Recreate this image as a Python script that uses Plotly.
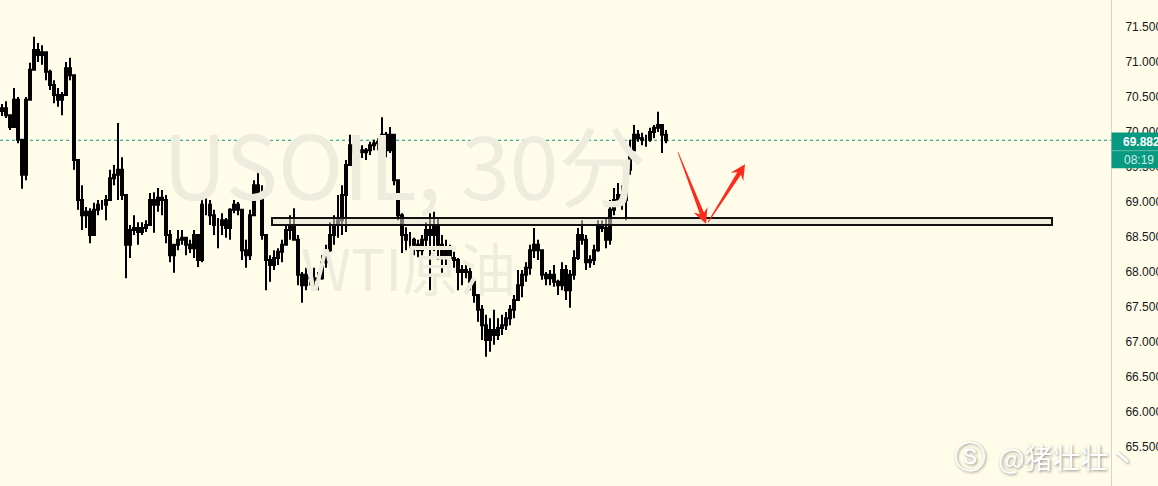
import plotly.graph_objects as go

# ---------------- data ----------------
high = [70.40, 70.44, 70.24, 70.63, 70.50, 69.74, 70.50, 70.99, 71.36, 71.27,
        71.24, 71.10, 70.89, 70.74, 70.63, 70.57, 71.00, 71.06, 70.81, 69.56,
        69.24, 68.93, 68.91, 68.99, 69.03, 69.03, 69.10, 69.46, 69.53, 70.13,
        69.64, 69.03, 68.67, 68.81, 68.71, 68.71, 68.74, 69.13, 69.14, 69.20,
        69.17, 69.10, 68.60, 68.31, 68.60, 68.60, 68.50, 68.46, 68.60, 68.46,
        69.03, 69.10, 69.03, 68.89, 68.77, 68.84, 68.77, 68.91, 69.03, 69.00,
        68.89, 68.46, 68.89, 69.31, 69.49, 69.24, 68.53, 68.24, 68.31, 68.34,
        68.46, 68.67, 68.81, 68.91, 68.53, 68.00, 68.06, 68.03, 68.06, 68.00,
        68.24, 68.39, 68.71, 68.81, 69.10, 69.24, 69.60, 69.96, 69.89, 69.81,
        69.81, 69.77, 69.86, 69.89, 69.91, 70.21, 70.00, 70.07, 69.89, 69.31,
        68.84, 68.64, 68.57, 68.49, 68.46, 68.53, 68.71, 68.84, 68.86, 68.77,
        68.53, 68.46, 68.39, 68.29, 68.20, 68.10, 68.10, 68.06, 67.89, 67.67,
        67.53, 67.39, 67.34, 67.46, 67.34, 67.39, 67.43, 67.53, 67.67, 68.03,
        68.03, 68.14, 68.39, 68.63, 68.46, 68.31, 68.00, 68.03, 68.10, 67.89,
        68.14, 68.10, 68.03, 68.31, 68.63, 68.74, 68.53, 68.24, 68.39, 68.74,
        68.74, 68.77, 69.03, 69.20, 69.27, 69.24, 69.53, 69.89, 70.10, 70.03,
        69.99, 69.96, 70.06, 70.10, 70.29, 70.10, 70.03]
low = [70.23, 70.20, 70.03, 70.06, 69.84, 69.19, 69.31, 70.46, 70.89, 71.00,
       70.96, 70.74, 70.60, 70.41, 70.36, 70.24, 70.53, 70.74, 69.46, 68.89,
       68.60, 68.63, 68.41, 68.53, 68.81, 68.89, 68.74, 69.03, 69.24, 69.03,
       69.03, 67.91, 68.20, 68.53, 68.39, 68.53, 68.57, 68.67, 68.56, 68.86,
       68.81, 68.41, 68.14, 67.99, 68.31, 68.39, 68.24, 68.27, 68.20, 68.07,
       68.14, 68.81, 68.67, 68.53, 68.34, 68.53, 68.49, 68.46, 68.84, 68.81,
       68.17, 68.06, 68.17, 68.81, 69.03, 68.46, 67.74, 67.86, 68.03, 68.10,
       68.14, 68.39, 68.46, 68.46, 67.81, 67.56, 67.74, 67.81, 67.74, 67.74,
       67.89, 68.06, 68.29, 68.39, 68.49, 68.53, 68.57, 69.57, 69.60, 69.60,
       69.63, 69.60, 69.67, 69.74, 69.74, 69.74, 69.64, 69.70, 69.24, 68.74,
       68.27, 68.31, 68.34, 68.24, 68.21, 68.24, 68.36, 67.74, 68.21, 68.17,
       67.99, 68.06, 68.10, 68.06, 67.74, 67.81, 67.91, 67.74, 67.56, 67.29,
       67.03, 66.79, 66.86, 66.96, 67.03, 67.10, 67.17, 67.24, 67.34, 67.60,
       67.64, 67.86, 67.96, 68.20, 68.17, 67.89, 67.81, 67.81, 67.79, 67.67,
       67.74, 67.60, 67.49, 67.89, 68.17, 68.39, 68.03, 68.06, 68.10, 68.29,
       68.57, 68.34, 68.39, 68.81, 68.96, 68.89, 68.74, 69.39, 69.74, 69.86,
       69.81, 69.79, 69.86, 69.91, 70.00, 69.70, 69.84]
close = [70.34, 70.24, 70.07, 70.46, 69.89, 69.39, 70.46, 70.89, 71.17, 71.10,
         71.14, 70.86, 70.67, 70.53, 70.46, 70.53, 70.91, 70.81, 69.60, 69.03,
         68.81, 68.86, 68.53, 68.89, 68.96, 68.96, 69.03, 69.34, 69.39, 69.46,
         69.10, 68.39, 68.60, 68.63, 68.57, 68.63, 68.67, 69.03, 68.96, 69.06,
         69.03, 68.53, 68.24, 68.39, 68.46, 68.49, 68.39, 68.34, 68.53, 68.17,
         68.96, 68.96, 68.81, 68.67, 68.67, 68.74, 68.63, 68.89, 68.96, 68.89,
         68.31, 68.24, 68.81, 69.24, 69.10, 68.53, 68.17, 68.10, 68.20, 68.29,
         68.39, 68.60, 68.67, 68.46, 67.96, 67.81, 67.96, 67.91, 67.89, 67.91,
         68.14, 68.31, 68.53, 68.67, 68.74, 69.10, 69.53, 69.81, 69.71, 69.74,
         69.71, 69.74, 69.81, 69.84, 69.86, 69.96, 69.74, 69.96, 69.31, 68.81,
         68.53, 68.46, 68.46, 68.39, 68.31, 68.46, 68.60, 68.53, 68.67, 68.39,
         68.24, 68.31, 68.20, 68.17, 68.00, 68.03, 68.00, 67.86, 67.67, 67.46,
         67.24, 67.03, 67.17, 67.10, 67.20, 67.24, 67.34, 67.46, 67.60, 67.81,
         67.96, 68.06, 68.31, 68.39, 68.31, 67.96, 67.91, 67.96, 67.86, 67.81,
         68.03, 67.74, 67.96, 68.20, 68.53, 68.46, 68.14, 68.17, 68.31, 68.67,
         68.63, 68.46, 68.89, 69.03, 69.10, 69.03, 69.46, 69.74, 69.96, 69.91,
         69.89, 69.89, 70.00, 70.06, 70.10, 69.96, 69.882]
first_open = 70.30
open_ = [first_open] + close[:-1]
bar = list(range(len(close)))

last_price = 69.882
countdown = "08:19"
y_ticks = [65.0, 65.5, 66.0, 66.5, 67.0, 67.5, 68.0, 68.5, 69.0, 69.5, 70.0, 70.5, 71.0, 71.5]
y_tick_text = ["%.3f" % v for v in y_ticks]

zone_bar_from, zone_bar_to = 67.5, 262.5
zone_low, zone_high = 68.67, 68.77

arrow_down = ((169.0, 69.71), (176.0, 68.69))   # (bar, price) tail -> tip
arrow_up = ((176.5, 68.71), (185.75, 69.54))

title_line1 = "USOIL, 30分"
title_line2 = "WTI原油"
credit = "@猪壮壮丶"

# ---------------- geometry / style ----------------
W, H = 1158, 486
PW = 1111
BAR_PX = 4.0
X_RANGE = [-0.5, -0.5 + PW / BAR_PX]
Y_RANGE = [71.886 - H / 70.0, 71.886]
BG = "#fffde9"
GREEN = "#089981"
RED = "#ff2a1a"


def to_px(x, y):
    px = (x - X_RANGE[0]) / (X_RANGE[1] - X_RANGE[0]) * PW
    py = (Y_RANGE[1] - y) / (Y_RANGE[1] - Y_RANGE[0]) * H
    return px, py


def to_data(px, py):
    x = X_RANGE[0] + px / PW * (X_RANGE[1] - X_RANGE[0])
    y = Y_RANGE[1] - py / H * (Y_RANGE[1] - Y_RANGE[0])
    return x, y


def arrow_path(tail, tip, head_len=15, head_w=7.5, tail_w=0.4, neck_w=2.2):
    tx, ty = to_px(*tail)
    hx, hy = to_px(*tip)
    dx, dy = hx - tx, hy - ty
    L = (dx * dx + dy * dy) ** 0.5
    ux, uy = dx / L, dy / L
    nx, ny = -uy, ux
    bx, by = hx - ux * head_len, hy - uy * head_len
    b2x, b2y = hx - ux * (head_len - 4), hy - uy * (head_len - 4)
    pts = [
        (tx + nx * tail_w, ty + ny * tail_w),
        (b2x + nx * neck_w, b2y + ny * neck_w),
        (bx + nx * head_w, by + ny * head_w),
        (hx, hy),
        (bx - nx * head_w, by - ny * head_w),
        (b2x - nx * neck_w, b2y - ny * neck_w),
        (tx - nx * tail_w, ty - ny * tail_w),
    ]
    d = []
    for k, (px, py) in enumerate(pts):
        x, y = to_data(px, py)
        d.append(("M" if k == 0 else "L") + "%.4f,%.4f" % (x, y))
    return " ".join(d) + " Z"


ppp = H / (Y_RANGE[1] - Y_RANGE[0])  # pixels per price unit

fig = go.Figure()
fig.add_trace(go.Candlestick(
    x=bar, open=open_, high=high, low=low, close=close,
    increasing=dict(line=dict(color="#000000", width=2), fillcolor="#000000"),
    decreasing=dict(line=dict(color="#000000", width=2), fillcolor="#000000"),
    whiskerwidth=0, hoverinfo="skip", showlegend=False,
))

shapes = [
    # support zone
    dict(type="rect", xref="x", yref="y", x0=zone_bar_from, x1=zone_bar_to,
         y0=zone_low, y1=zone_high, line=dict(color="#111111", width=2),
         fillcolor="rgba(225,224,210,0.55)", layer="above"),
    # last price dotted line
    dict(type="line", xref="paper", yref="y", x0=0, x1=1, y0=last_price, y1=last_price,
         line=dict(color=GREEN, width=1, dash="dot"), layer="below"),
    # arrows
    dict(type="path", xref="x", yref="y", path=arrow_path(*arrow_down),
         fillcolor=RED, line=dict(width=0), layer="above"),
    dict(type="path", xref="x", yref="y", path=arrow_path(*arrow_up),
         fillcolor=RED, line=dict(width=0), layer="above"),
    # price label box
    dict(type="rect", xref="paper", yref="y", x0=1 + 0.5 / PW, x1=W / PW,
         y0=last_price - 28.0 / ppp, y1=last_price + 7.8 / ppp,
         fillcolor=GREEN, line=dict(width=0), layer="above"),
    dict(type="line", xref="paper", yref="y", x0=1 + 0.5 / PW, x1=W / PW,
         y0=last_price - 10.4 / ppp, y1=last_price - 10.4 / ppp,
         line=dict(color="#5fbfa9", width=1), layer="above"),
]

annotations = [
    dict(text=title_line1, xref="paper", yref="paper", x=405 / PW, y=1 - 162 / H,
         xanchor="center", yanchor="middle", showarrow=False,
         font=dict(family="Noto Sans CJK SC", size=88, color="#eeecdd")),
    dict(text=title_line2, xref="paper", yref="paper", x=408 / PW, y=1 - 266 / H,
         xanchor="center", yanchor="middle", showarrow=False,
         font=dict(family="Noto Sans CJK SC", size=57, color="#eeecdd")),
    dict(text="<b>%.3f</b>" % last_price, xref="paper", yref="y", x=1 + 10 / PW,
         y=last_price - 1.4 / ppp, xanchor="left", yanchor="middle", showarrow=False,
         font=dict(family="Liberation Sans", size=12, color="#ffffff")),
    dict(text=countdown, xref="paper", yref="y", x=1 + 11 / PW,
         y=last_price - 19.7 / ppp, xanchor="left", yanchor="middle",
         showarrow=False, font=dict(family="Liberation Sans", size=12, color="#cdeee5")),
    dict(text=credit, xref="paper", yref="paper", x=996 / PW, y=1 - 457 / H,
         xanchor="left", yanchor="middle", showarrow=False,
         font=dict(family="Noto Sans CJK SC", size=28, color="#ffffff",
                   shadow="1px 1px 3px #8a8a80")),
    dict(text="ⓢ", xref="paper", yref="paper", x=970 / PW, y=1 - 457 / H,
         xanchor="center", yanchor="middle", showarrow=False,
         font=dict(family="DejaVu Sans", size=32, color="#ffffff",
                   shadow="1px 1px 3px #8a8a80")),
]

fig.update_layout(
    width=W, height=H,
    margin=dict(l=0, r=W - PW, t=0, b=0, autoexpand=False),
    paper_bgcolor=BG, plot_bgcolor=BG,
    shapes=shapes, annotations=annotations,
    showlegend=False,
    xaxis=dict(range=X_RANGE, visible=False, rangeslider=dict(visible=False),
               fixedrange=True, automargin=False),
    yaxis=dict(range=Y_RANGE, side="right", showgrid=False, zeroline=False,
               tickvals=y_ticks, ticktext=y_tick_text, ticks="outside",
               ticklen=0, ticklabelstandoff=11, showline=True,
               linecolor="#d4d3c6", linewidth=1, automargin=False,
               tickfont=dict(family="Liberation Sans", size=12, color="#131722"),
               fixedrange=True),
)

fig.write_html(
    "out.html",
    config={"displayModeBar": False},
    post_script="document.body.style.margin='0';document.body.style.overflow='hidden';"
                "document.body.style.background='%s';" % BG,
)
